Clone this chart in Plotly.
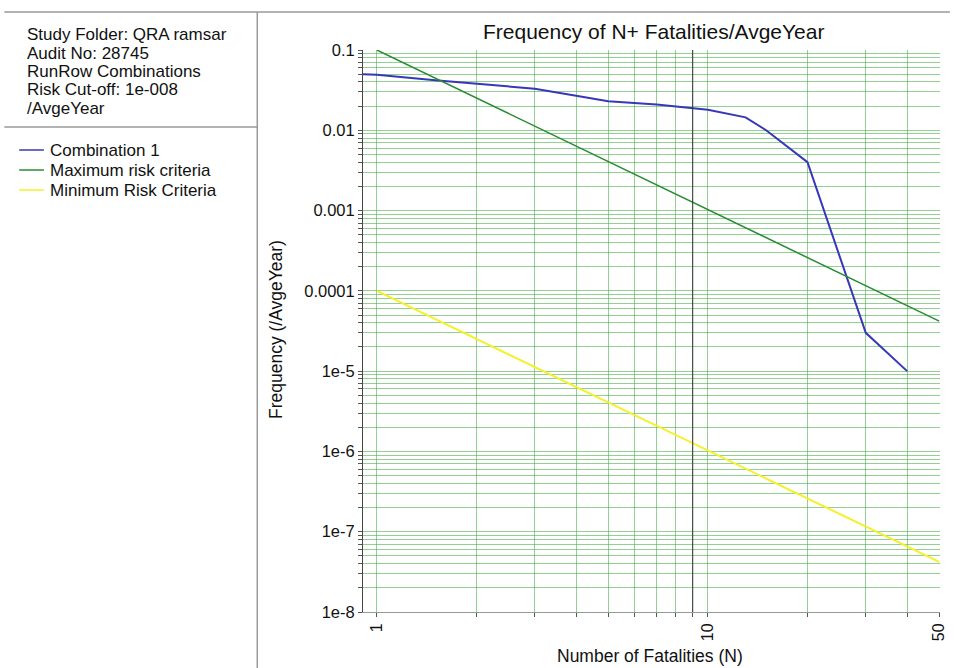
import plotly.graph_objects as go
import math

# ---- data ----
combo_n = [0.9, 1, 1.5, 2, 3, 4, 5, 7, 9, 10, 13, 15, 20, 30, 40]
combo_f = [0.05, 0.049, 0.042, 0.038, 0.033, 0.027, 0.023, 0.021, 0.019, 0.018, 0.0145, 0.01, 0.004, 3e-5, 1e-5]
max_n = [1, 50]
max_f = [0.1, 4.2e-5]
min_n = [1, 50]
min_f = [1e-4, 4.2e-8]

series_names = ["Combination 1", "Maximum risk criteria", "Minimum Risk Criteria"]
series_colors = ["rgb(55,55,185)", "rgb(40,140,50)", "rgb(245,240,40)"]

x_grid = [1, 2, 3, 4, 5, 6, 7, 8, 9, 10, 20, 30, 40, 50]
x_labels = {1: "1", 10: "10", 50: "50"}
y_major = [1e-8, 1e-7, 1e-6, 1e-5, 1e-4, 1e-3, 1e-2, 1e-1]
y_major_labels = ["1e-8", "1e-7", "1e-6", "1e-5", "0.0001", "0.001", "0.01", "0.1"]

info_lines = ["Study Folder: QRA ramsar", "Audit No: 28745", "RunRow Combinations",
              "Risk Cut-off: 1e-008", "/AvgeYear"]

W, H = 957, 668
L, R, T, B = 363, 947, 50, 612

def px(xp):
    return (xp - L) / (R - L)

def py(yp):
    return (B - yp) / (B - T)

xvals = x_grid
xtext = [x_labels.get(v, "") for v in x_grid]
yvals, ytext = [], []
for k, m in enumerate(y_major):
    yvals.append(m); ytext.append(y_major_labels[k])
    if m < 0.1:
        for j in range(2, 10):
            yvals.append(m * j); ytext.append("")

grid_col = "rgba(60,170,60,0.55)"
font = "Liberation Sans, Arial, sans-serif"

fig = go.Figure()
for xs, ys, nm, col, w in [(combo_n, combo_f, series_names[0], series_colors[0], 2),
                           (max_n, max_f, series_names[1], series_colors[1], 1.5),
                           (min_n, min_f, series_names[2], series_colors[2], 2)]:
    fig.add_trace(go.Scatter(x=xs, y=ys, mode="lines", name=nm,
                             line=dict(color=col, width=w), showlegend=False))

x0 = math.log10(0.908)
fig.update_xaxes(type="log", range=[x0, x0 + (R - L) / 335.0],
                 tickvals=xvals, ticktext=xtext, tickangle=-90,
                 showgrid=True, gridcolor=grid_col, gridwidth=1,
                 ticks="outside", ticklen=4, tickcolor="#555",
                 showline=True, linecolor="#999", mirror=False, zeroline=False,
                 tickfont=dict(size=16, color="#111", family=font))
fig.update_yaxes(type="log", range=[-8, -1],
                 tickvals=yvals, ticktext=ytext,
                 showgrid=True, gridcolor=grid_col, gridwidth=1,
                 ticks="outside", ticklen=4, tickcolor="#555",
                 showline=True, linecolor="#444", zeroline=False,
                 tickfont=dict(size=16.5, color="#111", family=font))

shapes = [
    # dark line at N=9
    dict(type="line", xref="x", yref="paper", x0=9, x1=9, y0=0, y1=1,
         line=dict(color="#333", width=1)),
    # panel borders
    dict(type="line", xref="paper", yref="paper", x0=px(0), x1=px(W), y0=py(12), y1=py(12),
         line=dict(color="#999", width=1.5)),
    dict(type="line", xref="paper", yref="paper", x0=px(256), x1=px(256), y0=py(12), y1=py(H + 5),
         line=dict(color="#999", width=1.5)),
    dict(type="line", xref="paper", yref="paper", x0=px(0), x1=px(256), y0=py(127), y1=py(127),
         line=dict(color="#999", width=1.5)),
]

annotations = [
    dict(text="Frequency of N+ Fatalities/AvgeYear", xref="paper", yref="paper",
         x=px(657), y=py(32), xanchor="center", yanchor="middle", showarrow=False,
         font=dict(size=21, color="#111", family=font)),
    dict(text="Frequency (/AvgeYear)", xref="paper", yref="paper",
         x=px(275), y=py(330), xanchor="center", yanchor="middle", textangle=-90,
         showarrow=False, font=dict(size=17.5, color="#111", family=font)),
    dict(text="Number of Fatalities (N)", xref="paper", yref="paper",
         x=px(653), y=py(656), xanchor="center", yanchor="middle",
         showarrow=False, font=dict(size=17.5, color="#111", family=font)),
]
for i, line in enumerate(info_lines):
    annotations.append(dict(text=line, xref="paper", yref="paper",
                            x=px(21), y=py(35 + i * 18.3), xanchor="left", yanchor="middle",
                            align="left", showarrow=False,
                            font=dict(size=17, color="#111", family=font)))

# legend panel
for i, (nm, col) in enumerate(zip(series_names, series_colors)):
    yy = 150 + i * 20
    shapes.append(dict(type="line", xref="paper", yref="paper",
                       x0=px(15), x1=px(40), y0=py(yy), y1=py(yy),
                       line=dict(color=col, width=1.5)))
    annotations.append(dict(text=nm, xref="paper", yref="paper",
                            x=px(44), y=py(yy), xanchor="left", yanchor="middle",
                            align="left", showarrow=False,
                            font=dict(size=17, color="#111", family=font)))

fig.update_layout(
    width=W, height=H,
    margin=dict(l=L, r=W - R, t=T, b=H - B),
    paper_bgcolor="white", plot_bgcolor="white",
    shapes=shapes, annotations=annotations,
    showlegend=False,
)

fig.write_html("out.html")
